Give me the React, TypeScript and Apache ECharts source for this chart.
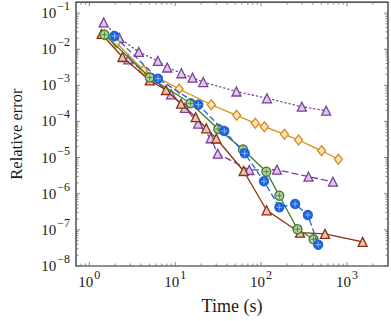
import React, { useEffect, useRef } from "react";
import * as echarts from "echarts";

// Axis extents
const X_MIN = 0.7;
const X_MAX = 3000;
const Y_MIN = 1e-8;
const Y_MAX = 0.2;
const X_DECADES = [-1, 0, 1, 2, 3];
const Y_DECADES = [-9, -8, -7, -6, -5, -4, -3, -2, -1];
const MINOR_MULTS = [1, 2, 3, 4, 5, 6, 7, 8, 9];

// Series data (time in s, relative error)
const purpleDotT = [1.47, 2.24, 3.77, 6.28, 8.08, 11.8, 15.9, 21.2, 51.6, 117, 298, 572];
const purpleDotE = [5.47e-2, 2.04e-2, 8.35e-3, 4.71e-3, 3.11e-3, 2.15e-3, 1.62e-3, 1.23e-3, 6.74e-4, 4.37e-4, 2.56e-4, 1.98e-4];

const orangeT = [1.49, 2.06, 4.27, 11.1, 26.3, 51.9, 85.5, 109, 187, 273, 506, 793];
const orangeE = [2.54e-2, 1.51e-2, 2.62e-3, 7.9e-4, 2.89e-4, 1.48e-4, 8.88e-5, 7.15e-5, 4.41e-5, 3.06e-5, 1.54e-5, 8.96e-6];

const greenT = [1.5, 5.06, 15.1, 31.7, 61.5, 115, 163, 265, 408];
const greenE = [2.51e-2, 1.64e-3, 3.18e-4, 6.18e-5, 1.67e-5, 4.07e-6, 8.81e-7, 1.04e-7, 5.48e-8];

const blueT = [1.96, 6.31, 18.6, 37.3, 64.4, 108, 163, 249, 350, 462];
const blueE = [2.31e-2, 1.52e-3, 2.89e-4, 5.44e-5, 1.31e-5, 2.21e-6, 4.21e-7, 5.19e-7, 2.58e-7, 3.88e-8];

const brownT = [1.39, 2.43, 5.06, 7.81, 11.7, 17.3, 23.0, 30.1, 62.6, 116, 284, 554, 1520];
const brownE = [2.63e-2, 6.07e-3, 1.36e-3, 7.41e-4, 3.1e-4, 1.31e-4, 6.46e-5, 3.37e-5, 4.25e-6, 3.48e-7, 8.34e-8, 7.74e-8, 4.65e-8];

const purpleDashT = [2.85, 8.97, 13.0, 18.5, 25.9, 31.3, 72.8, 153, 356, 686];
const purpleDashE = [5.24e-3, 5.64e-4, 2.38e-4, 8.66e-5, 3.42e-5, 1.28e-5, 4.53e-6, 4.62e-6, 2.96e-6, 2.15e-6];

const FONT = "'Liberation Serif', 'DejaVu Serif', serif";
const TEXT = "#1a1a1a";

const PURPLE = "#7b3f9c";
const ORANGE = "#d88a12";
const GREEN = "#3f7b28";
const BLUE = "#1d63dc";
const BROWN = "#8e2e0c";

const CROSS = "path://M5 0L5 10M0 5L10 5";

function pairs(T: number[], E: number[]) {
  return T.map((t, i) => [t, E[i]]);
}

function lineSeries(
  T: number[],
  E: number[],
  color: string,
  fill: string,
  symbol: string,
  size: number | number[],
  type: any,
  z: number
) {
  return {
    type: "line",
    data: pairs(T, E),
    symbol,
    symbolSize: size,
    showAllSymbol: true,
    lineStyle: { color, width: 1.3, type, cap: "round" },
    itemStyle: { color: fill, borderColor: color, borderWidth: 1.3 },
    z,
    clip: false,
  };
}

function crossSeries(T: number[], E: number[], color: string, z: number) {
  return {
    type: "scatter",
    data: pairs(T, E),
    symbol: CROSS,
    symbolSize: 6,
    itemStyle: { color: "transparent", borderColor: color, borderWidth: 1 },
    z,
    silent: true,
  };
}

function powLabel(v: number) {
  const l = Math.log10(v);
  const e = Math.round(l);
  if (Math.abs(l - e) > 1e-3) return "";
  const s = e < 0 ? "\u2212" + Math.abs(e) : String(e);
  return "{b|10}{s|" + s + "}";
}

const rich = {
  b: { fontSize: 15, fontFamily: FONT, color: TEXT, lineHeight: 26, verticalAlign: "middle" },
  s: { fontSize: 12, fontFamily: FONT, color: TEXT, lineHeight: 18, verticalAlign: "top", padding: [0, 0, 0, 1] },
};

export default function App() {
  const ref = useRef<HTMLDivElement>(null);
  useEffect(() => {
    if (!ref.current) return;
    const chart = echarts.init(ref.current, undefined, { renderer: "svg" });

    const tickData: number[][] = [];
    X_DECADES.forEach((d) =>
      MINOR_MULTS.forEach((m) => {
        const v = m * Math.pow(10, d);
        if (v > X_MIN && v < X_MAX) tickData.push([v, Y_MIN, 0, m === 1 ? 1 : 0]);
      })
    );
    Y_DECADES.forEach((d) =>
      MINOR_MULTS.forEach((m) => {
        const v = m * Math.pow(10, d);
        if (v >= Y_MIN * 0.999 && v < Y_MAX) tickData.push([X_MIN, v, 1, m === 1 ? 1 : 0]);
      })
    );

    const option: any = {
      animation: false,
      textStyle: { fontFamily: FONT },
      grid: {
        show: true,
        left: 68,
        right: 1.5,
        top: 2,
        bottom: 55,
        borderColor: "#222",
        borderWidth: 1.2,
        backgroundColor: "transparent",
      },
      xAxis: {
        type: "log",
        logBase: 10,
        min: X_MIN,
        max: X_MAX,
        axisLine: { show: false },
        axisTick: { show: false },
        splitLine: { show: false },
        axisLabel: { formatter: powLabel, rich, margin: 3, fontFamily: FONT },
        name: "Time (s)",
        nameLocation: "middle",
        nameGap: 31,
        nameTextStyle: { fontFamily: FONT, fontSize: 18, color: TEXT },
      },
      yAxis: {
        type: "log",
        logBase: 10,
        min: Y_MIN,
        max: Y_MAX,
        axisLine: { show: false },
        axisTick: { show: false },
        splitLine: { show: false },
        axisLabel: { formatter: powLabel, rich, margin: 6, fontFamily: FONT },
        name: "Relative error",
        nameLocation: "middle",
        nameGap: 51,
        nameTextStyle: { fontFamily: FONT, fontSize: 16.5, color: TEXT },
      },
      series: [
        {
          type: "custom",
          silent: true,
          clip: false,
          encode: { x: 0, y: 1 },
          data: tickData,
          z: 1,
          renderItem: (params: any, api: any) => {
            const kind = api.value(2);
            const len = api.value(3) === 1 ? 4 : 2.5;
            const style = { stroke: "#666", lineWidth: 0.8 };
            if (kind === 0) {
              const v = api.value(0);
              const a = api.coord([v, Y_MIN]);
              const b = api.coord([v, Y_MAX]);
              return {
                type: "group",
                children: [
                  { type: "line", shape: { x1: a[0], y1: a[1], x2: a[0], y2: a[1] - len }, style },
                  { type: "line", shape: { x1: b[0], y1: b[1], x2: b[0], y2: b[1] + len }, style },
                ],
              };
            }
            const v = api.value(1);
            const a = api.coord([X_MIN, v]);
            const b = api.coord([X_MAX, v]);
            return {
              type: "group",
              children: [
                { type: "line", shape: { x1: a[0], y1: a[1], x2: a[0] + len, y2: a[1] }, style },
                { type: "line", shape: { x1: b[0], y1: b[1], x2: b[0] - len, y2: b[1] }, style },
              ],
            };
          },
        },
        lineSeries(purpleDotT, purpleDotE, PURPLE, "#ddcbe8", "triangle", 9, [1.2, 3], 3),
        lineSeries(purpleDashT, purpleDashE, PURPLE, "#ddcbe8", "triangle", 9, [6, 4], 3),
        lineSeries(orangeT, orangeE, ORANGE, "#f7e2bd", "diamond", [8, 10], "solid", 4),
        lineSeries(brownT, brownE, BROWN, "#e6c3b3", "triangle", 9, "solid", 5),
        lineSeries(greenT, greenE, GREEN, "#b7d2a6", "circle", 9, "solid", 6),
        crossSeries(greenT, greenE, GREEN, 7),
        lineSeries(blueT, blueE, BLUE, BLUE, "circle", 9, [5, 4], 8),
        crossSeries(blueT, blueE, "#a9c6f5", 9),
      ],
    };
    chart.setOption(option);
    return () => chart.dispose();
  }, []);
  return (
    <div
      ref={ref}
      style={{ position: "fixed", left: 0, top: 0, width: 391, height: 321, background: "#fff" }}
    />
  );
}
